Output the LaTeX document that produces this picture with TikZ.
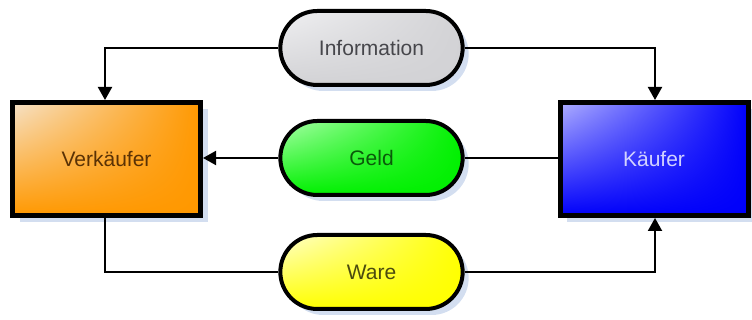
\documentclass[tikz,border=0pt]{standalone}
\usepackage{fontspec}
\setmainfont{Liberation Sans}
\usetikzlibrary{arrows.meta,shapes.misc,shadows,shadings,positioning}

\definecolor{shadowblue}{RGB}{200,214,236}
\definecolor{orangemain}{RGB}{255,152,0}
\definecolor{orangelight}{RGB}{246,226,200}
\definecolor{bluemain}{RGB}{0,0,250}
\definecolor{bluelight}{RGB}{175,175,255}
\definecolor{graymain}{RGB}{210,210,213}
\definecolor{graylight}{RGB}{240,240,242}
\definecolor{greenmain}{RGB}{0,240,0}
\definecolor{greenlight}{RGB}{170,255,170}
\definecolor{yellowmain}{RGB}{255,255,0}
\definecolor{yellowlight}{RGB}{255,255,205}
\definecolor{txtbrown}{RGB}{90,50,5}
\definecolor{txtlightblue}{RGB}{210,210,255}
\definecolor{txtgray}{RGB}{70,70,75}
\definecolor{txtgreen}{RGB}{10,90,10}
\definecolor{txtolive}{RGB}{75,75,15}

\tikzset{
  party/.style={draw=black, line width=5pt, rectangle,
    minimum width=188pt, minimum height=113pt,
    font=\fontsize{21}{25}\selectfont,
    drop shadow={shadow xshift=7pt, shadow yshift=-7pt, fill=shadowblue, opacity=0.8}},
  flow/.style={draw=black, line width=4pt, rounded rectangle,
    minimum width=189pt, minimum height=74pt,
    font=\fontsize{21}{25}\selectfont,
    drop shadow={shadow xshift=6pt, shadow yshift=-6pt, fill=shadowblue, opacity=0.8}},
  grad/.style 2 args={upper left=#1, upper right=#2, lower left=#2, lower right=#2},
  link/.style={draw=black, line width=2pt},
  arr/.style={link, -{Triangle[length=13pt,width=14pt]}}
}

\begin{document}
\begin{tikzpicture}[x=1pt,y=1pt]
  \useasboundingbox (0,0) rectangle (752,320);

  % trading parties
  \node[party, grad={orangelight}{orangemain}, text=txtbrown] (seller) at (106.5,161) {Verkäufer};
  \node[party, grad={bluelight}{bluemain}, text=txtlightblue] (buyer) at (654,161) {Käufer};

  % exchanged flows
  \node[flow, grad={graylight}{graymain}, text=txtgray] (info) at (371.5,272) {Information};
  \node[flow, grad={greenlight}{greenmain}, text=txtgreen] (money) at (371.5,162) {Geld};
  \node[flow, grad={yellowlight}{yellowmain}, text=txtolive] (goods) at (371.5,48) {Ware};

  % connectors
  \coordinate (infoL) at (105,272);
  \coordinate (infoR) at (655,272);
  \coordinate (goodsL) at (105,48);
  \coordinate (goodsR) at (655,48);

  \draw[arr] (info.west) -- (infoL) -- (seller.north -| infoL);
  \draw[arr] (info.east) -- (infoR) -- (buyer.north -| infoR);

  \draw[link] (buyer.west |- money.east) -- (money.east);
  \draw[arr] (money.west) -- (seller.east |- money.west);

  \draw[link] (seller.south -| goodsL) -- (goodsL) -- (goods.west);
  \draw[arr] (goods.east) -- (goodsR) -- (buyer.south -| goodsR);
\end{tikzpicture}
\end{document}
